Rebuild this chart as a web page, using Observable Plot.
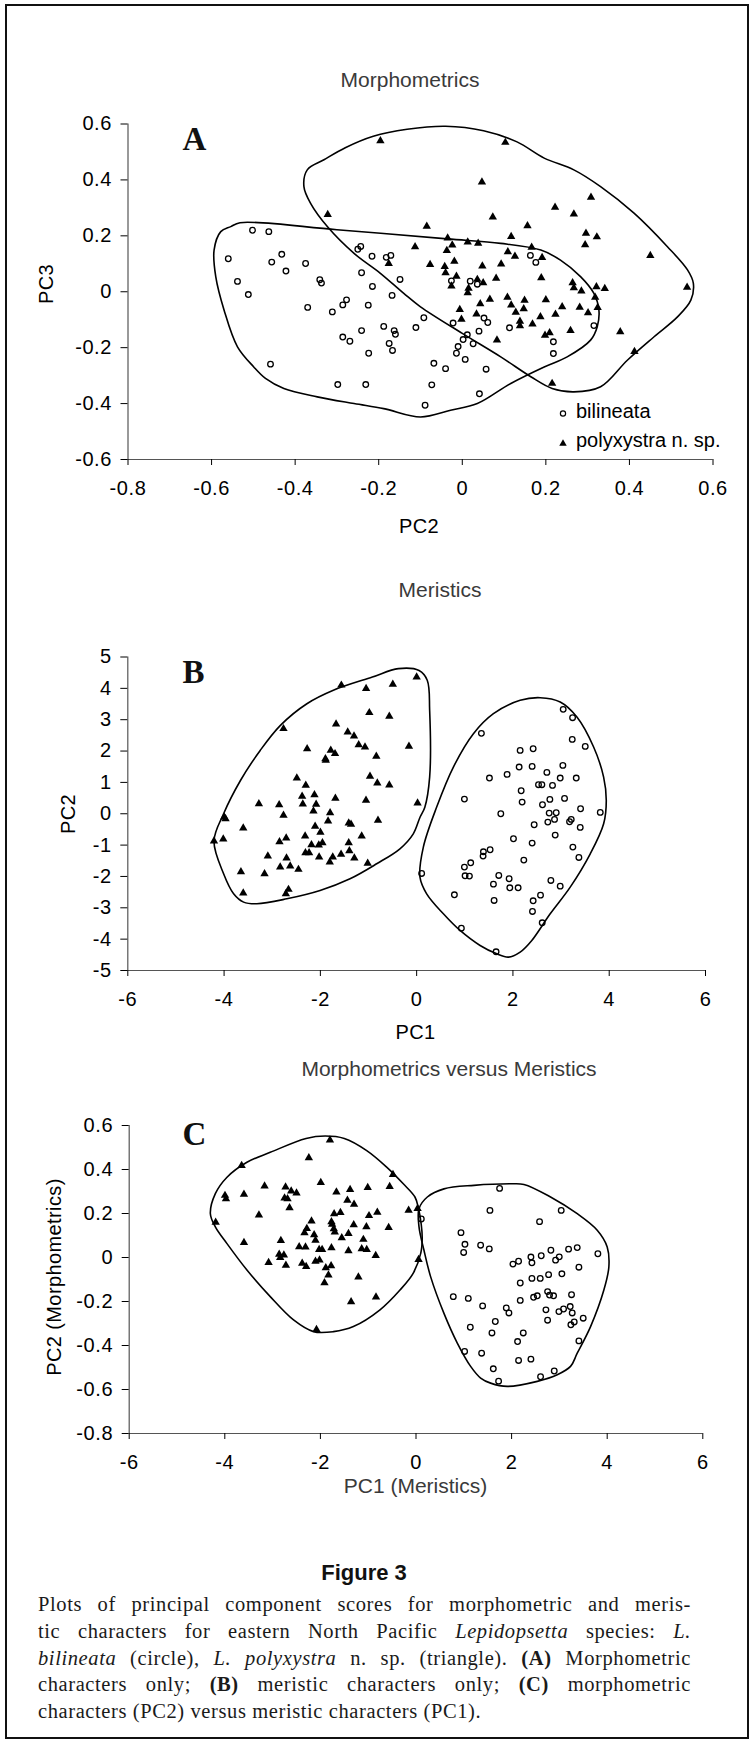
<!DOCTYPE html>
<html><head><meta charset="utf-8">
<script src="https://cdn.jsdelivr.net/npm/d3@7"></script>
<script src="https://cdn.jsdelivr.net/npm/@observablehq/plot@0.6"></script>
<style>
html,body{margin:0;padding:0;background:#fff;}
#page{position:relative;width:750px;height:1742px;overflow:hidden;font-family:"Liberation Sans",Arial,sans-serif;background:#fff;}
#frame{position:absolute;left:5px;top:4px;width:740px;height:1731px;border:2px solid #111;}
.abs{position:absolute;white-space:nowrap;line-height:1;transform:translate(-50%,-50%);}
.title{font-size:21px;color:#3a3a3a;}
.axlab{font-size:20px;color:#000;letter-spacing:0.4px;}
.rot{transform:translate(-50%,-50%) rotate(-90deg);}
.letter{font-family:"Liberation Serif","Times New Roman",serif;font-weight:bold;font-size:33px;color:#111;}
.leg{position:absolute;white-space:nowrap;line-height:1;transform:translate(0,-50%);font-size:20px;color:#000;}
.plot{position:absolute;left:0;}
#fig{position:absolute;left:364px;top:1573px;transform:translate(-50%,-50%);font-weight:bold;font-size:22px;line-height:1;color:#111;}
#cap{position:absolute;left:38px;top:1591px;width:653px;font-family:"Liberation Serif","Times New Roman",serif;font-size:20.5px;letter-spacing:0.6px;line-height:26.75px;color:#1a1a1a;}
#cap div{text-align:justify;text-align-last:justify;white-space:nowrap;}
#cap div.last{text-align:left;text-align-last:left;}
</style>
</head><body>
<div id="page">
  <div id="frame"></div>
</div>
<script>
// ---------- Panel A: Morphometrics (PC2 vs PC3) ----------
const aXTicks = [-0.8, -0.6, -0.4, -0.2, 0, 0.2, 0.4, 0.6];
const aYTicks = [-0.6, -0.4, -0.2, 0, 0.2, 0.4, 0.6];
const aBilineata = [[-0.560,0.118],[-0.538,0.037],[-0.512,-0.010],[-0.502,0.220],[-0.463,0.215],[-0.456,0.106],[-0.432,0.134],[-0.422,0.074],[-0.375,0.101],[-0.370,-0.056],[-0.341,0.043],[-0.337,0.031],[-0.311,-0.072],[-0.286,-0.047],[-0.277,-0.029],[-0.286,-0.162],[-0.269,-0.177],[-0.459,-0.259],[-0.298,-0.332],[-0.231,-0.332],[-0.250,0.152],[-0.243,0.162],[-0.241,0.068],[-0.216,0.127],[-0.225,-0.048],[-0.215,0.019],[-0.241,-0.139],[-0.224,-0.220],[-0.188,-0.124],[-0.182,0.123],[-0.171,0.130],[-0.168,-0.013],[-0.163,-0.139],[-0.160,-0.152],[-0.175,-0.185],[-0.167,-0.210],[-0.149,0.044],[-0.111,-0.128],[-0.092,-0.093],[-0.026,0.039],[0.019,0.038],[0.036,0.027],[-0.022,-0.112],[0.052,-0.094],[0.061,-0.110],[0.040,-0.141],[0.012,-0.154],[0.002,-0.171],[0.026,-0.186],[-0.010,-0.196],[-0.014,-0.220],[0.007,-0.242],[-0.068,-0.256],[-0.040,-0.275],[0.057,-0.277],[-0.073,-0.333],[0.041,-0.365],[-0.089,-0.406],[0.113,-0.129],[0.163,0.130],[0.176,0.105],[0.218,-0.179],[0.218,-0.221],[0.315,-0.121]];
const aPolyxystra = [[-0.322,0.276],[-0.176,0.101],[-0.113,0.161],[0.047,0.392],[0.222,0.302],[0.308,0.338],[0.073,0.267],[0.267,0.278],[-0.085,0.234],[0.156,0.236],[0.296,0.209],[0.322,0.196],[0.294,0.168],[0.117,0.197],[-0.035,0.192],[-0.024,0.167],[0.013,0.178],[0.038,0.173],[-0.037,0.147],[0.166,0.159],[0.109,0.143],[0.126,0.127],[0.191,0.122],[0.450,0.129],[-0.077,0.097],[-0.042,0.090],[-0.019,0.109],[-0.040,0.068],[0.048,0.092],[0.093,0.099],[-0.014,0.055],[-0.026,0.020],[0.036,0.044],[0.050,0.032],[0.015,0.012],[0.013,-0.004],[0.081,0.048],[0.189,0.050],[0.264,0.032],[0.267,0.014],[0.285,0.002],[0.321,0.018],[0.341,0.011],[0.318,-0.020],[0.538,0.016],[0.066,-0.027],[0.043,-0.043],[0.108,-0.020],[0.117,-0.048],[0.149,-0.031],[0.147,-0.061],[0.128,-0.074],[0.200,-0.029],[0.239,-0.054],[0.281,-0.056],[0.301,-0.075],[0.324,-0.057],[-0.006,-0.064],[-0.002,-0.099],[0.034,-0.080],[0.138,-0.106],[0.138,-0.122],[0.168,-0.116],[0.187,-0.090],[0.223,-0.081],[0.259,-0.139],[0.198,-0.156],[0.209,-0.147],[0.083,-0.173],[0.378,-0.143],[0.412,-0.214],[0.215,-0.328],[-0.196,0.540],[0.103,0.534]];
const aBilineataHull = [[-0.532,0.247],[-0.300,0.222],[-0.036,0.189],[0.092,0.173],[0.188,0.149],[0.235,0.113],[0.283,0.054],[0.315,-0.006],[0.327,-0.066],[0.323,-0.125],[0.307,-0.173],[0.251,-0.233],[0.196,-0.269],[0.116,-0.328],[0.036,-0.400],[-0.028,-0.424],[-0.100,-0.448],[-0.188,-0.418],[-0.259,-0.400],[-0.347,-0.376],[-0.427,-0.346],[-0.471,-0.310],[-0.499,-0.269],[-0.538,-0.197],[-0.570,-0.066],[-0.590,0.054],[-0.594,0.149],[-0.578,0.215],[-0.554,0.233]];
const aPolyxystraHull = [[-0.379,0.376],[-0.371,0.436],[-0.331,0.472],[-0.280,0.515],[-0.213,0.556],[-0.132,0.581],[-0.040,0.592],[0.051,0.576],[0.131,0.536],[0.196,0.478],[0.267,0.436],[0.331,0.376],[0.411,0.281],[0.491,0.161],[0.539,0.078],[0.553,0.030],[0.547,-0.030],[0.515,-0.090],[0.459,-0.161],[0.395,-0.245],[0.331,-0.340],[0.267,-0.358],[0.215,-0.346],[0.164,-0.304],[0.092,-0.233],[0.000,-0.149],[-0.100,-0.054],[-0.140,-0.006],[-0.196,0.066],[-0.259,0.137],[-0.323,0.233],[-0.363,0.316]];

// ---------- Panel B: Meristics (PC1 vs PC2) ----------
const bXTicks = [-6, -4, -2, 0, 2, 4, 6];
const bYTicks = [-5, -4, -3, -2, -1, 0, 1, 2, 3, 4, 5];
const bBilineata = [[3.044,3.330],[3.239,3.064],[3.232,2.372],[3.502,2.149],[1.345,2.564],[2.150,2.021],[2.420,2.074],[2.129,1.489],[2.399,1.511],[3.037,1.543],[2.705,1.319],[1.879,1.255],[1.512,1.138],[2.982,1.138],[3.315,1.138],[2.531,0.926],[2.601,0.926],[2.822,0.904],[2.171,0.734],[3.072,0.489],[2.767,0.457],[2.191,0.372],[2.614,0.287],[0.992,0.468],[3.405,0.160],[3.814,0.043],[1.748,0.000],[2.753,0.021],[2.899,0.032],[3.211,-0.181],[3.176,-0.255],[2.725,-0.266],[2.864,-0.181],[2.441,-0.351],[3.398,-0.436],[2.878,-0.681],[2.011,-0.798],[2.399,-0.936],[3.245,-1.064],[3.370,-1.394],[1.526,-1.149],[1.387,-1.213],[1.380,-1.351],[2.226,-1.479],[1.123,-1.564],[0.992,-1.702],[1.006,-1.979],[1.096,-1.989],[0.104,-1.904],[1.706,-1.968],[1.921,-2.074],[1.595,-2.245],[1.935,-2.362],[2.108,-2.362],[2.788,-2.128],[2.982,-2.309],[0.784,-2.585],[1.609,-2.766],[2.420,-2.777],[2.573,-2.596],[2.406,-3.117],[2.608,-3.479],[0.929,-3.649],[1.650,-4.404]];
const bPolyxystra = [[-2.766,2.713],[-1.674,2.862],[-0.983,3.223],[-0.568,3.106],[-0.160,2.149],[-2.275,2.074],[-1.784,2.021],[-1.695,1.915],[-1.895,1.755],[-1.888,1.700],[-1.432,2.606],[-1.301,2.479],[-1.204,2.202],[-1.073,2.128],[-0.838,1.830],[-0.969,1.191],[-0.817,0.979],[-0.568,0.915],[-1.052,0.426],[0.019,0.340],[-2.489,1.138],[-2.303,0.904],[-2.123,0.606],[-2.379,0.553],[-2.365,0.309],[-2.088,0.298],[-2.144,0.085],[-1.688,0.489],[-1.798,0.032],[-3.277,0.319],[-2.856,0.287],[-2.766,-0.053],[-3.996,-0.106],[-3.970,-0.160],[-3.602,-0.457],[-4.017,-0.809],[-4.210,-0.872],[-1.840,-0.234],[-2.109,-0.404],[-1.999,-0.596],[-2.317,-0.713],[-2.710,-0.777],[-2.849,-0.894],[-2.185,-0.989],[-2.033,-1.000],[-1.957,-0.926],[-1.411,-0.298],[-1.363,-0.340],[-0.803,-0.213],[-1.142,-0.713],[-1.411,-0.926],[-1.398,-1.181],[-1.294,-1.415],[-1.570,-1.298],[-1.743,-1.383],[-1.805,-1.543],[-2.026,-1.383],[-2.310,-1.245],[-2.234,-1.245],[-3.091,-1.351],[-2.703,-1.415],[-2.835,-1.702],[-2.627,-1.670],[-2.455,-1.777],[-3.160,-1.915],[-3.650,-1.851],[-3.602,-2.532],[-2.717,-2.553],[-2.662,-2.415],[-1.017,-1.585],[-1.564,4.100],[-1.050,3.990],[-0.495,4.130],[0.000,4.360]];
const bPolyxystraHull = [[-4.21,-0.87],[-4.01,0.00],[-3.66,1.06],[-3.25,2.02],[-2.83,2.82],[-2.28,3.51],[-1.73,3.94],[-0.92,4.36],[-0.38,4.63],[0.05,4.57],[0.22,4.26],[0.27,3.30],[0.27,1.17],[0.17,0.21],[0.07,-0.11],[-0.07,-0.64],[-0.347,-1.117],[-0.831,-1.596],[-1.384,-2.074],[-2.006,-2.447],[-2.697,-2.713],[-3.319,-2.872],[-3.595,-2.819],[-3.802,-2.553],[-4.01,-1.915]];
const bBilineataHull = [[0.069,-2.021],[0.139,-1.064],[0.416,0.213],[0.763,1.489],[1.179,2.553],[1.595,3.191],[2.150,3.617],[2.566,3.702],[2.982,3.564],[3.329,3.085],[3.676,2.128],[3.884,1.170],[3.939,0.426],[3.884,-0.319],[3.606,-1.277],[3.190,-2.340],[2.774,-3.191],[2.392,-4.043],[2.150,-4.415],[1.907,-4.574],[1.664,-4.468],[1.318,-4.202],[0.902,-3.723],[0.555,-3.191],[0.208,-2.553]];

// ---------- Panel C: Morphometrics (PC2) versus Meristics (PC1) ----------
const cXTicks = [-6, -4, -2, 0, 2, 4, 6];
const cYTicks = [-0.8, -0.6, -0.4, -0.2, 0, 0.2, 0.4, 0.6];
const cPolyxystra = [[-2.242,0.453],[-3.648,0.418],[-0.482,0.377],[-3.168,0.325],[-2.729,0.320],[-2.611,0.302],[-2.500,0.293],[-1.992,0.341],[-1.665,0.297],[-1.379,0.309],[-1.010,0.318],[-0.551,0.322],[-3.996,0.282],[-3.975,0.267],[-3.599,0.287],[-2.750,0.270],[-2.688,0.267],[-1.435,0.260],[-1.296,0.242],[-2.646,0.226],[-3.286,0.193],[-1.713,0.199],[-1.581,0.204],[-0.983,0.190],[-0.809,0.205],[-0.154,0.214],[0.033,0.222],[-4.191,0.160],[-2.186,0.166],[-1.769,0.162],[-1.755,0.151],[-2.284,0.131],[-2.333,0.112],[-2.131,0.103],[-1.720,0.130],[-1.699,0.116],[-1.413,0.109],[-1.303,0.149],[-1.038,0.139],[-0.572,0.136],[-1.553,0.089],[-2.103,0.078],[-1.101,0.082],[-3.599,0.068],[-2.827,0.077],[-2.444,0.048],[-2.312,0.047],[-2.026,0.036],[-1.964,0.036],[-1.769,0.044],[-1.413,0.030],[-1.136,0.039],[-1.031,0.036],[-2.862,0.014],[-2.764,0.011],[-2.841,0.000],[-0.843,0.009],[0.054,-0.009],[-3.084,-0.023],[-2.722,-0.036],[-2.381,-0.027],[-2.298,-0.041],[-2.103,-0.017],[-2.019,-0.012],[-1.887,-0.047],[-1.776,-0.038],[-1.832,-0.080],[-1.915,-0.115],[-1.205,-0.089],[-0.837,-0.180],[-1.358,-0.202],[-2.082,-0.328],[-1.800,0.534]];
const cBilineata = [[1.749,0.314],[1.547,0.214],[3.038,0.214],[2.585,0.163],[0.111,0.175],[0.941,0.113],[1.024,0.060],[0.997,0.023],[1.352,0.056],[1.533,0.039],[2.028,-0.030],[2.146,-0.017],[2.404,0.002],[2.425,-0.024],[2.620,0.008],[2.822,0.033],[2.920,-0.012],[2.997,0.003],[3.192,0.038],[3.373,0.045],[3.805,0.017],[3.408,-0.044],[3.052,-0.074],[2.774,-0.078],[2.599,-0.095],[2.425,-0.095],[2.181,-0.116],[0.780,-0.178],[1.094,-0.186],[1.394,-0.220],[2.181,-0.195],[2.460,-0.181],[2.537,-0.174],[2.753,-0.155],[2.794,-0.171],[2.878,-0.174],[3.254,-0.169],[1.889,-0.229],[1.944,-0.252],[2.718,-0.238],[2.990,-0.246],[3.087,-0.234],[3.226,-0.223],[3.268,-0.252],[3.498,-0.276],[3.310,-0.293],[3.240,-0.306],[2.753,-0.285],[1.659,-0.291],[1.136,-0.317],[1.589,-0.343],[2.244,-0.343],[2.125,-0.382],[3.408,-0.379],[1.017,-0.427],[1.373,-0.435],[2.146,-0.468],[2.404,-0.462],[1.617,-0.506],[1.728,-0.562],[2.606,-0.542],[2.892,-0.516]];
const cPolyxystraHull = [[-4.302,0.199],[-4.198,0.290],[-3.954,0.365],[-3.537,0.433],[-3.049,0.478],[-2.300,0.541],[-1.900,0.552],[-1.500,0.541],[-1.031,0.486],[-0.614,0.411],[-0.266,0.335],[-0.022,0.275],[0.050,0.225],[0.110,0.150],[0.130,0.085],[0.100,0.020],[-0.060,-0.072],[-0.335,-0.148],[-0.753,-0.238],[-1.310,-0.314],[-1.727,-0.337],[-2.145,-0.337],[-2.562,-0.284],[-3.049,-0.178],[-3.537,-0.057],[-3.954,0.063],[-4.198,0.139]];
const cBilineataHull = [[0.063,0.222],[0.237,0.275],[0.585,0.312],[1.213,0.328],[1.979,0.335],[2.258,0.332],[2.815,0.275],[3.373,0.199],[3.791,0.124],[4.000,0.048],[4.035,-0.042],[3.930,-0.148],[3.652,-0.314],[3.373,-0.435],[3.233,-0.495],[2.955,-0.533],[2.537,-0.563],[1.909,-0.586],[1.561,-0.571],[1.352,-0.548],[1.143,-0.495],[0.864,-0.389],[0.585,-0.254],[0.307,-0.088],[0.167,0.033],[0.063,0.139]];

const page = document.getElementById("page");
const fmt = d => String(Math.round(d * 10) / 10);

function panel(o) {
  const px = d => d[0], py = d => d[1];
  const svg = Plot.plot({
    width: 750, height: o.height,
    marginTop: o.mt, marginBottom: o.mb, marginLeft: o.ml, marginRight: o.mr,
    x: {domain: o.xDomain},
    y: {domain: o.yDomain},
    style: {fontFamily: "'Liberation Sans', Arial, sans-serif", fontSize: "20px", letterSpacing: "0.6px", background: "transparent", color: "#000", overflow: "visible"},
    marks: [
      Plot.ruleX([o.xDomain[0]], {stroke: "#555", strokeWidth: 1.2}),
      Plot.ruleY([o.yDomain[0]], {stroke: "#555", strokeWidth: 1.2}),
      Plot.axisX({ticks: o.xTicks, tickFormat: fmt, tickSize: 6, tickPadding: 15, label: null, fontSize: 20}),
      Plot.axisY({ticks: o.yTicks, tickFormat: fmt, tickSize: 7, tickPadding: 9, label: null, fontSize: 20}),
      Plot.line(o.circleHull, {x: px, y: py, curve: "catmull-rom-closed", stroke: "#000", strokeWidth: 1.6}),
      Plot.line(o.triangleHull, {x: px, y: py, curve: "catmull-rom-closed", stroke: "#000", strokeWidth: 1.6}),
      Plot.dot(o.circles, {x: px, y: py, r: 2.8, stroke: "#000", strokeWidth: 1.3, fill: "none"}),
      Plot.dot(o.triangles, {x: px, y: py, symbol: "triangle", r: 3.1, fill: "#000", stroke: "none"})
    ]
  });
  svg.classList.add("plot");
  svg.style.top = o.top + "px";
  page.appendChild(svg);
}

panel({top: 100, height: 460, mt: 23.5, mb: 101, ml: 127.5, mr: 37.5,
  xDomain: [-0.8, 0.6], yDomain: [-0.6, 0.6], xTicks: aXTicks, yTicks: aYTicks,
  circles: aBilineata, triangles: aPolyxystra, circleHull: aBilineataHull, triangleHull: aPolyxystraHull});
panel({top: 600, height: 460, mt: 56.5, mb: 90, ml: 127.3, mr: 45,
  xDomain: [-6, 6], yDomain: [-5, 5], xTicks: bXTicks, yTicks: bYTicks,
  circles: bBilineata, triangles: bPolyxystra, circleHull: bBilineataHull, triangleHull: bPolyxystraHull});
panel({top: 1090, height: 420, mt: 35, mb: 77, ml: 128.7, mr: 47.7,
  xDomain: [-6, 6], yDomain: [-0.8, 0.6], xTicks: cXTicks, yTicks: cYTicks,
  circles: cBilineata, triangles: cPolyxystra, circleHull: cBilineataHull, triangleHull: cPolyxystraHull});

// ---------- text overlays ----------
function label(text, x, y, cls) {
  const d = document.createElement("div");
  d.className = "abs " + cls;
  d.style.left = x + "px"; d.style.top = y + "px";
  d.textContent = text;
  page.appendChild(d);
}
label("Morphometrics", 410, 79, "title");
label("Meristics", 440, 589, "title");
label("Morphometrics versus Meristics", 449, 1068, "title");
label("A", 194.5, 139, "letter");
label("B", 193.5, 672, "letter");
label("C", 194.5, 1134, "letter");
label("PC2", 419, 525.5, "axlab");
label("PC3", 46, 283.5, "axlab rot");
label("PC1", 415.5, 1032, "axlab");
label("PC2", 67.5, 813.5, "axlab rot");
label("PC1 (Meristics)", 415.5, 1485, "title");
label("PC2 (Morphometrics)", 53.5, 1277, "axlab rot");

// legend (panel A)
const legSvg = d3.create("svg").attr("width", 20).attr("height", 50)
  .style("position", "absolute").style("left", "553px").style("top", "403px");
legSvg.append("circle").attr("cx", 10).attr("cy", 10.5).attr("r", 2.6).attr("fill", "none").attr("stroke", "#000").attr("stroke-width", 1.2);
legSvg.append("path").attr("d", d3.symbol(d3.symbolTriangle, 24)()).attr("transform", "translate(10,40.5)").attr("fill", "#000");
page.appendChild(legSvg.node());
[["bilineata", 411], ["polyxystra n. sp.", 440]].forEach(([t, y]) => {
  const d = document.createElement("div");
  d.className = "leg"; d.style.left = "576px"; d.style.top = y + "px"; d.textContent = t;
  page.appendChild(d);
});

// caption
const fig = document.createElement("div");
fig.id = "fig"; fig.textContent = "Figure 3";
page.appendChild(fig);
const cap = document.createElement("div");
cap.id = "cap";
cap.innerHTML =
  '<div>Plots of principal component scores for morphometric and meris-</div>' +
  '<div>tic characters for eastern North Pacific <i>Lepidopsetta</i> species: <i>L.</i></div>' +
  '<div><i>bilineata</i> (circle), <i>L. polyxystra</i> n. sp. (triangle). <b>(A)</b> Morphometric</div>' +
  '<div>characters only; <b>(B)</b> meristic characters only; <b>(C)</b> morphometric</div>' +
  '<div class="last">characters (PC2) versus meristic characters (PC1).</div>';
page.appendChild(cap);
</script>
</body></html>
